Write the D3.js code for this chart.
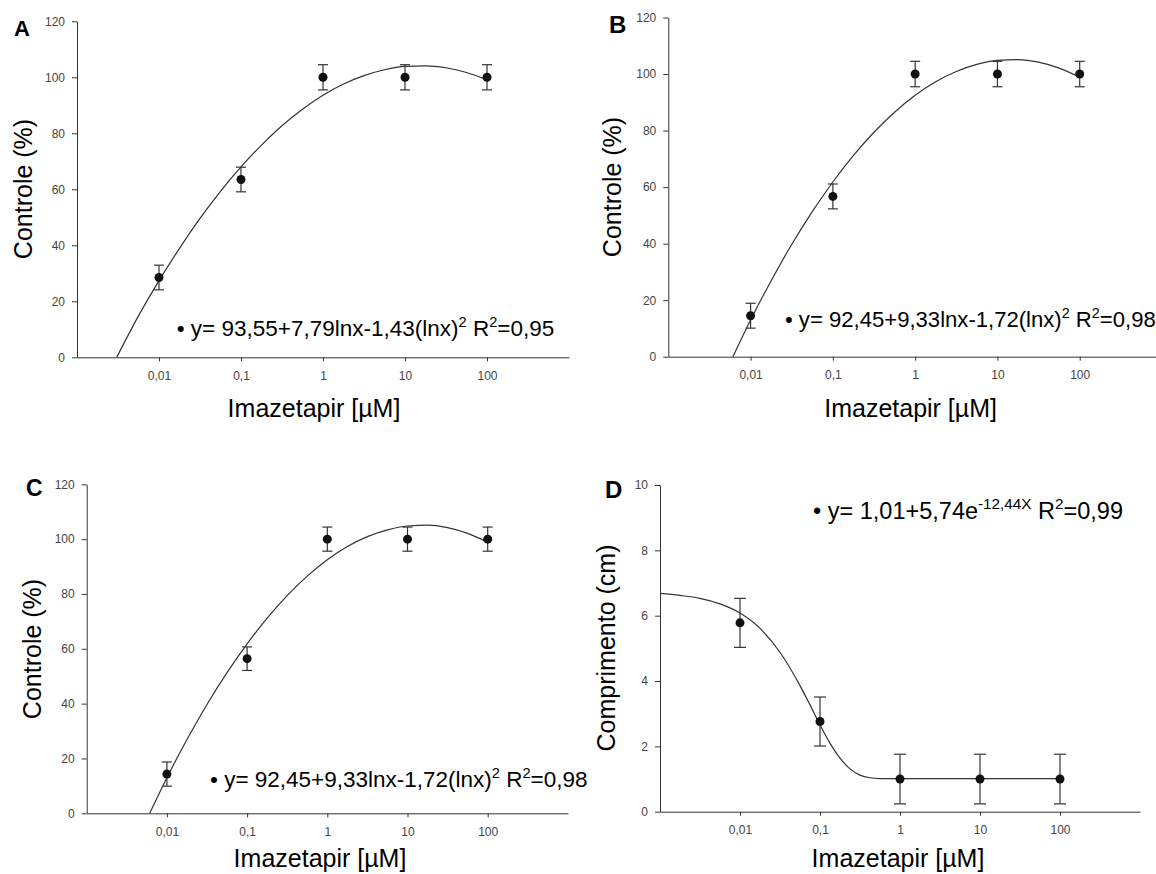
<!DOCTYPE html>
<html>
<head>
<meta charset="utf-8">
<script src="https://cdn.jsdelivr.net/npm/d3@7"></script>
<style>
  body { margin: 0; background: #fff; }
  text { font-family: "Liberation Sans", Arial, sans-serif; }
</style>
</head>
<body>
<svg id="chart" width="1156" height="874"></svg>
<script>
// concentrations of imazetapir (uM) and their tick labels
var concentrations = [0.01, 0.1, 1, 10, 100];
var tickLabels = ["0,01", "0,1", "1", "10", "100"];

// means and error bars
var meanA = [28.5, 63.5, 100, 100, 100], errA = [4.4, 4.4, 4.5, 4.5, 4.5];
var meanB = [14.5, 56.7, 100, 100, 100], errB = [4.4, 4.4, 4.5, 4.5, 4.5];
var meanC = [14.3, 56.4, 100, 100, 100], errC = [4.4, 4.3, 4.4, 4.4, 4.4];
var meanD = [5.78, 2.76, 1.0, 1.0, 1.0], errD = [0.75, 0.75, 0.76, 0.76, 0.76];

// fitted curves, points
var fitXA = [0.00305, 0.00562, 0.01, 0.0178, 0.0316, 0.0562, 0.1, 0.178, 0.316, 0.562, 1, 1.78, 3.16, 5.62, 10, 17.8, 31.6, 56.2, 100];
var fitA  = [0, 14.8, 27.4, 38.9, 49.6, 59.3, 68.0, 75.8, 82.7, 88.6, 93.6, 97.6, 100.6, 102.7, 103.9, 104.1, 103.4, 101.7, 99.1];
var fitXB = [0.0061, 0.01, 0.0178, 0.0316, 0.0562, 0.1, 0.178, 0.316, 0.562, 1, 1.78, 3.16, 5.62, 10, 17.8, 31.6, 56.2, 100];
var fitB  = [0, 13.0, 26.9, 39.7, 51.3, 61.8, 71.2, 79.4, 86.5, 92.5, 97.3, 100.9, 103.4, 104.8, 105.1, 104.2, 102.1, 98.9];
var fitXD = [0.001, 0.00178, 0.00316, 0.00562, 0.01, 0.0178, 0.0316, 0.0562, 0.075, 0.1, 0.133, 0.178, 0.237, 0.316, 0.422, 0.562, 1, 10, 100];
var fitD  = [6.68, 6.62, 6.53, 6.36, 6.08, 5.61, 4.88, 3.86, 3.27, 2.66, 2.10, 1.64, 1.31, 1.12, 1.04, 1.015, 1.01, 1.01, 1.01];

var ticksPct = [0, 20, 40, 60, 80, 100, 120];
var ticksCm = [0, 2, 4, 6, 8, 10];

// equation labels: [text, superscript?]
var eqA = [["\u2022 y= 93,55+7,79lnx-1,43(lnx)", 0], ["2", 1], [" R", 0], ["2", 1], ["=0,95", 0]];
var eqBC = [["\u2022 y= 92,45+9,33lnx-1,72(lnx)", 0], ["2", 1], [" R", 0], ["2", 1], ["=0,98", 0]];
var eqD = [["\u2022 y= 1,01+5,74e", 0], ["-12,44X", 1], [" R", 0], ["2", 1], ["=0,99", 0]];

var svg = d3.select("#chart");
svg.append("rect").attr("width", 1156).attr("height", 874).attr("fill", "#fff");

var panels = [
  { label: "A", lx: 14, ly: 36, ls: 22, x0: 77, x1: 569, yTop: 21.3, yBot: 357.3, yMax: 120, yTicks: ticksPct,
    yTitle: "Controle (%)", ytx: 31.5, yty: 189, xtx: 314, xty: 416.7,
    eq: eqA, ex: 176.7, ey: 336, es: 22.5, mean: meanA, err: errA, fx: fitXA, fy: fitA, cap: 5 },
  { label: "B", lx: 609, ly: 33, ls: 24, x0: 668.3, x1: 1162, yTop: 17.5, yBot: 356.7, yMax: 120, yTicks: ticksPct,
    yTitle: "Controle (%)", ytx: 621, yty: 187, xtx: 910.6, xty: 416.7,
    eq: eqBC, ex: 785, ey: 327.3, es: 22.1, mean: meanB, err: errB, fx: fitXB, fy: fitB, cap: 5 },
  { label: "C", lx: 26, ly: 496, ls: 23, x0: 86.7, x1: 567.9, yTop: 484.3, yBot: 813.3, yMax: 120, yTicks: ticksPct,
    yTitle: "Controle (%)", ytx: 41, yty: 649, xtx: 320, xty: 867,
    eq: eqBC, ex: 210, ey: 787.3, es: 22.5, mean: meanC, err: errC, fx: fitXB, fy: fitB, cap: 5 },
  { label: "D", lx: 605, ly: 498, ls: 24, x0: 660, x1: 1140, yTop: 485, yBot: 811.7, yMax: 10, yTicks: ticksCm,
    yTitle: "Comprimento (cm)", ytx: 615, yty: 648, xtx: 898, xty: 867,
    eq: eqD, ex: 813, ey: 519, es: 23.5, mean: meanD, err: errD, fx: fitXD, fy: fitD, cap: 6 }
];

panels.forEach(function(p) {
  var g = svg.append("g");

  var x = d3.scaleLog().domain([0.001, 1000]).range([p.x0, p.x1]);
  var y = d3.scaleLinear().domain([0, p.yMax]).range([p.yBot, p.yTop]);

  // axes
  var ax = g.append("g").attr("transform", "translate(0," + p.yBot + ")")
    .call(d3.axisBottom(x).tickValues(concentrations)
      .tickFormat(function(d, i) { return tickLabels[i]; })
      .tickSize(4).tickSizeOuter(0).tickPadding(10));
  var ay = g.append("g").attr("transform", "translate(" + p.x0 + ",0)")
    .call(d3.axisLeft(y).tickValues(p.yTicks).tickSize(5).tickSizeOuter(0).tickPadding(7));
  [ax, ay].forEach(function(a) {
    a.selectAll("path, line").attr("stroke", "#333");
    a.selectAll("text").attr("fill", "#444").style("font-size", "12px");
  });

  // fitted curve
  var line = d3.line().x(function(d) { return x(d[0]); }).y(function(d) { return y(d[1]); })
    .curve(d3.curveMonotoneX);
  g.append("path").datum(d3.zip(p.fx, p.fy)).attr("d", line)
    .attr("fill", "none").attr("stroke", "#333").attr("stroke-width", 1.2);

  // error bars and points
  var pts = concentrations.map(function(c, i) { return { c: c, m: p.mean[i], e: p.err[i] }; });
  var eb = g.selectAll(".eb").data(pts).enter().append("g").attr("stroke", "#333").attr("stroke-width", 1.2);
  eb.append("line").attr("x1", d => x(d.c)).attr("x2", d => x(d.c))
    .attr("y1", d => y(d.m + d.e)).attr("y2", d => y(d.m - d.e));
  eb.append("line").attr("x1", d => x(d.c) - p.cap).attr("x2", d => x(d.c) + p.cap)
    .attr("y1", d => y(d.m + d.e)).attr("y2", d => y(d.m + d.e));
  eb.append("line").attr("x1", d => x(d.c) - p.cap).attr("x2", d => x(d.c) + p.cap)
    .attr("y1", d => y(d.m - d.e)).attr("y2", d => y(d.m - d.e));
  g.selectAll(".pt").data(pts).enter().append("circle")
    .attr("cx", d => x(d.c)).attr("cy", d => y(d.m)).attr("r", 4.5).attr("fill", "#111");

  // titles
  g.append("text").attr("x", p.lx).attr("y", p.ly).text(p.label)
    .style("font-weight", "bold").style("font-size", p.ls + "px");
  g.append("text").attr("transform", "translate(" + p.ytx + "," + p.yty + ") rotate(-90)")
    .attr("text-anchor", "middle").style("font-size", "25px").text(p.yTitle);
  g.append("text").attr("x", p.xtx).attr("y", p.xty).attr("text-anchor", "middle")
    .style("font-size", "25px").text("Imazetapir [\u00b5M]");

  // equation with superscripts
  var t = g.append("text").attr("x", p.ex).attr("y", p.ey).style("font-size", p.es + "px");
  var prevSup = 0;
  p.eq.forEach(function(s) {
    var dy = 0;
    if (s[1] && !prevSup) dy = -0.42 * p.es;
    if (!s[1] && prevSup) dy = 0.42 * p.es;
    t.append("tspan").attr("dy", dy).style("font-size", s[1] ? (0.65 * p.es) + "px" : null).text(s[0]);
    prevSup = s[1];
  });
});
</script>
</body>
</html>
